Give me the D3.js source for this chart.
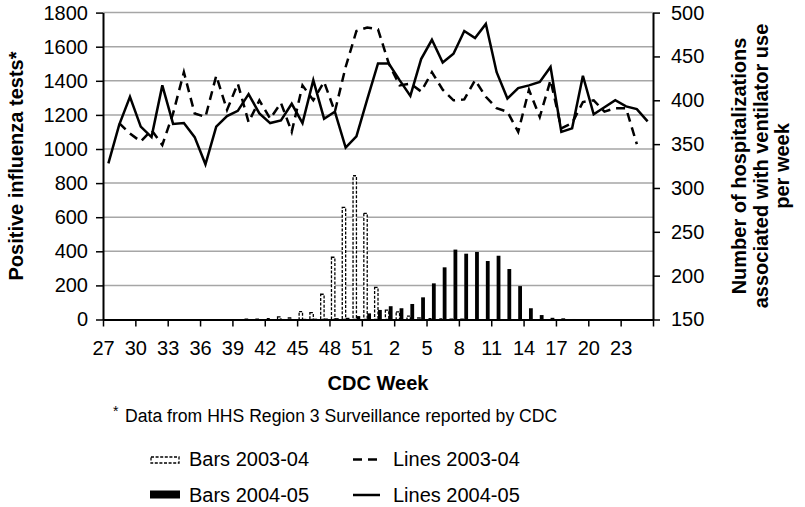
<!DOCTYPE html>
<html><head><meta charset="utf-8">
<script src="https://cdn.jsdelivr.net/npm/d3@7"></script>
<style>body{margin:0;background:#fff;} svg{display:block;font-family:"Liberation Sans",Arial,sans-serif;}</style>
</head><body><svg id="c" width="805" height="507"></svg>
<script>
// ---- data ----
const weeks = [27,28,29,30,31,32,33,34,35,36,37,38,39,40,41,42,43,44,45,46,47,48,49,50,51,52,
               1,2,3,4,5,6,7,8,9,10,11,12,13,14,15,16,17,18,19,20,21,22,23,24,25,26];
const lineWeeks = weeks.slice(0, 51);
// positive influenza tests (left axis)
const bars2003 = [0,0,0,0,0,0,0,0,0,0,0,0,0,2,2,5,15,10,46,40,148,365,658,843,623,189,
                  55,45,20,10,5,3,2,2,0,0,0,0,0,0,0,0,0,0,0,0,0,0,0,0,0,0];
const bars2004 = [0,0,0,0,0,0,0,0,0,0,0,0,0,0,0,2,3,2,4,5,6,8,10,20,36,56,
                  78,66,91,130,212,306,410,386,396,343,374,296,196,66,26,10,7,3,2,0,0,0,0,0,0,0];
// hospitalizations with ventilator use (right axis)
const lines2003 = [null,374,362,353,366,349,385,432,385,381,428,389,419,375,400,379,397,364,417,400,
                   421,387,438,479,483,481,442,417,419,410,432,412,400,401,423,404,391,387,364,412,
                   381,423,368,374,398,400,387,391,391,350,null];
const lines2004 = [328,372,404,370,358,417,373,374,358,327,370,382,388,407,385,374,377,396,374,423,
                   379,387,346,359,401,442,442,423,405,447,469,443,453,479,471,487,432,402,414,417,
                   421,438,364,368,428,384,392,400,393,390,376];
const leftTicks = [0,200,400,600,800,1000,1200,1400,1600,1800];
const rightTicks = [150,200,250,300,350,400,450,500];
const seriesNames = ["Bars 2003-04","Bars 2004-05","Lines 2003-04","Lines 2004-05"];

// ---- layout ----
const L = 103, R = 653, T = 12.6, B = 319.5;
const svg = d3.select("#c");
const xTick = d3.scalePoint().domain(weeks).range([L, R]);
const xSub = d3.scaleBand().domain(["2003-04","2004-05"]).range([1.6, 9.2]);
const xLine = d3.scalePoint().domain(lineWeeks).range([L, R]).padding(0.5);
const yL = d3.scaleLinear().domain([0, 1800]).range([B, T]);
const yR = d3.scaleLinear().domain([150, 500]).range([B, T]);

// grid
svg.append("g").selectAll("line").data(leftTicks.filter(v => v > 0)).join("line")
  .attr("x1", L).attr("x2", R).attr("y1", d => yL(d)).attr("y2", d => yL(d))
  .attr("stroke", "#a6a6a6").attr("stroke-width", 1.5);

// bars
const bw = xSub.bandwidth();
svg.append("g").selectAll("rect").data(weeks.map((w, i) => ({w, v: bars2003[i]})).filter(d => d.v > 0)).join("rect")
  .attr("x", d => xTick(d.w) + xSub("2003-04") + 0.4)
  .attr("width", bw - 0.4)
  .attr("y", d => yL(d.v)).attr("height", d => B - yL(d.v))
  .attr("fill", "#fff").attr("stroke", "#000").attr("stroke-width", 1.3)
  .attr("stroke-dasharray", "3,1.6");
svg.append("g").selectAll("rect").data(weeks.map((w, i) => ({w, v: bars2004[i]})).filter(d => d.v > 0)).join("rect")
  .attr("x", d => xTick(d.w) + xSub("2004-05"))
  .attr("width", bw)
  .attr("y", d => yL(d.v)).attr("height", d => B - yL(d.v))
  .attr("fill", "#000");

// lines
const line = d3.line().defined(d => d.v != null).x(d => xLine(d.w)).y(d => yR(d.v));
svg.append("path").datum(lineWeeks.map((w, i) => ({w, v: lines2003[i]})))
  .attr("d", line).attr("fill", "none").attr("stroke", "#000").attr("stroke-width", 2.5)
  .attr("stroke-dasharray", "9,6");
svg.append("path").datum(lineWeeks.map((w, i) => ({w, v: lines2004[i]})))
  .attr("d", line).attr("fill", "none").attr("stroke", "#000").attr("stroke-width", 2.5)
  .attr("stroke-linejoin", "miter");

// axes
const fs = "20px";
const gL = svg.append("g").attr("transform", `translate(${L},0)`)
  .call(d3.axisLeft(yL).tickValues(leftTicks).tickFormat(d3.format("d")).tickSize(7).tickPadding(8).tickSizeOuter(0));
const gR = svg.append("g").attr("transform", `translate(${R},0)`)
  .call(d3.axisRight(yR).tickValues(rightTicks).tickFormat(d3.format("d")).tickSize(7).tickPadding(11).tickSizeOuter(0));
const tickWeeks = weeks.filter((w, i) => i % 3 === 0);
const gX = svg.append("g").attr("transform", `translate(0,${B})`)
  .call(d3.axisBottom(xTick).tickValues(tickWeeks).tickSize(7).tickPadding(14)
    .tickFormat((w) => weeks.indexOf(w) > 48 ? "" : w).tickSizeOuter(0));
[gL, gR, gX].forEach(g => {
  g.selectAll("path.domain").attr("stroke", "#000").attr("stroke-width", 2);
  g.selectAll(".tick line").attr("stroke", "#000").attr("stroke-width", 1.5);
  g.selectAll("text").attr("fill", "#000").style("font-size", fs)
    .style("font-family", '"Liberation Sans",Arial,sans-serif');
});

// titles
svg.append("text").attr("transform", "translate(23,166) rotate(-90)")
  .attr("text-anchor", "middle").style("font-size", fs).style("font-weight", "bold")
  .text("Positive influenza tests*");
const rTitle = ["Number of hospitalizations", "associated with ventilator use", "per week"];
rTitle.forEach((t, k) => {
  svg.append("text").attr("transform", `translate(${746 + k * 21.5},166) rotate(-90)`)
    .attr("text-anchor", "middle").style("font-size", fs).style("font-weight", "bold").text(t);
});
svg.append("text").attr("x", 378).attr("y", 390).attr("text-anchor", "middle")
  .style("font-size", fs).style("font-weight", "bold").text("CDC Week");
svg.append("text").attr("x", 113).attr("y", 416).style("font-size", "14px").text("*");
svg.append("text").attr("x", 125).attr("y", 422).style("font-size", "17.6px")
  .text("Data from HHS Region 3 Surveillance reported by CDC");

// legend
const lg = svg.append("g");
lg.append("rect").attr("x", 151).attr("y", 457).attr("width", 28).attr("height", 6)
  .attr("fill", "#fff").attr("stroke", "#000").attr("stroke-width", 1.3).attr("stroke-dasharray", "3,1.6");
lg.append("rect").attr("x", 150).attr("y", 490.5).attr("width", 30).attr("height", 8).attr("fill", "#000");
lg.append("line").attr("x1", 353).attr("x2", 383).attr("y1", 459.5).attr("y2", 459.5)
  .attr("stroke", "#000").attr("stroke-width", 2.5).attr("stroke-dasharray", "9,6");
lg.append("line").attr("x1", 353).attr("x2", 380).attr("y1", 495).attr("y2", 495)
  .attr("stroke", "#000").attr("stroke-width", 2.5);
const lpos = [[189, 466], [189, 502], [393, 466], [393, 502]];
seriesNames.forEach((s, k) => {
  lg.append("text").attr("x", lpos[k][0]).attr("y", lpos[k][1]).style("font-size", fs).text(s);
});
</script></body></html>
